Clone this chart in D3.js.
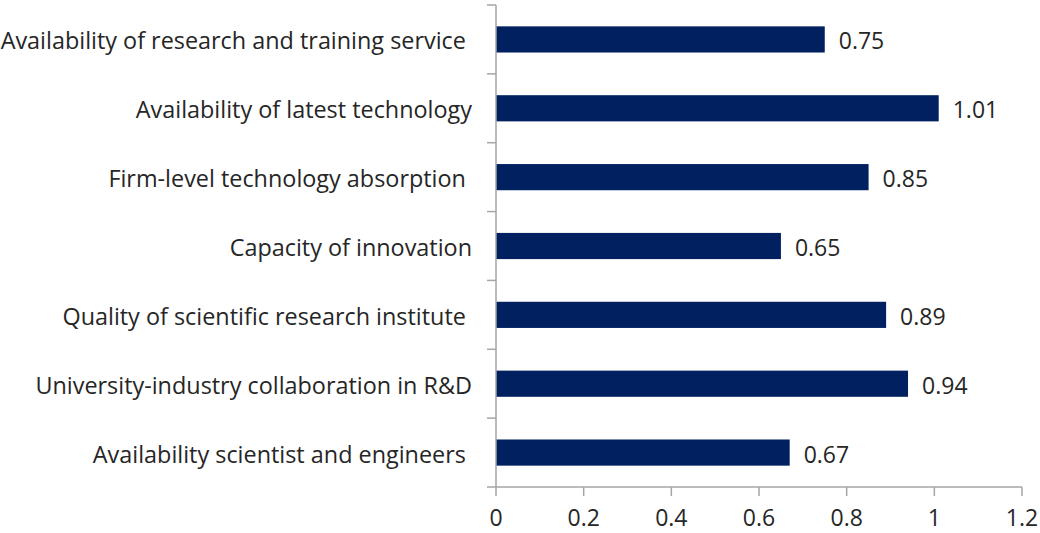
<!DOCTYPE html>
<html><head><meta charset="utf-8">
<script src="https://cdn.jsdelivr.net/npm/d3@7"></script>
<style>body{margin:0;background:#fff}text{white-space:pre}</style>
</head><body>
<svg id="c" width="1040" height="533"></svg>
<script>
const categories = [
  "Availability of research and training service ",
  "Availability of latest technology",
  "Firm-level technology absorption ",
  "Capacity of innovation",
  "Quality of scientific research institute ",
  "University-industry collaboration in R&D",
  "Availability scientist and engineers "
];
const values = [0.75, 1.01, 0.85, 0.65, 0.89, 0.94, 0.67];
const xTicks = [0, 0.2, 0.4, 0.6, 0.8, 1, 1.2];
const xTickLabels = ["0", "0.2", "0.4", "0.6", "0.8", "1", "1.2"];

(function(){
const svg = d3.select("#c");
const font = "'Open Sans', sans-serif";
const fs = 23;
const ink = "#262626";
const pLeft = 496, pRight = 1022, pTop = 5, pBottom = 487;
const x = d3.scaleLinear().domain([0, 1.2]).range([pLeft, pRight]);
const y = d3.scaleBand().domain(categories).range([pTop, pBottom]).paddingInner(0.62).paddingOuter(0.31);
const axisColor = "#a6a6a6";

svg.selectAll("rect.bar").data(categories).enter().append("rect")
  .attr("x", x(0)).attr("y", d => y(d))
  .attr("width", (d,i) => x(values[i]) - x(0))
  .attr("height", y.bandwidth())
  .attr("fill", "#002060");

svg.append("line").attr("x1", pLeft).attr("x2", pLeft).attr("y1", pTop).attr("y2", pBottom)
  .attr("stroke", axisColor).attr("stroke-width", 1.5);
const step = (pBottom - pTop) / categories.length;
d3.range(categories.length + 1).forEach(i => {
  svg.append("line").attr("x1", pLeft - 9).attr("x2", pLeft)
    .attr("y1", pTop + i * step).attr("y2", pTop + i * step)
    .attr("stroke", axisColor).attr("stroke-width", 1.5);
});
svg.append("line").attr("x1", pLeft).attr("x2", pRight).attr("y1", pBottom).attr("y2", pBottom)
  .attr("stroke", axisColor).attr("stroke-width", 1.5);
xTicks.forEach((t, i) => {
  svg.append("line").attr("x1", x(t)).attr("x2", x(t)).attr("y1", pBottom).attr("y2", pBottom + 9)
    .attr("stroke", axisColor).attr("stroke-width", 1.5);
  svg.append("text").attr("x", x(t)).attr("y", 526).attr("text-anchor", "middle")
    .attr("font-family", font).attr("font-size", fs).attr("fill", ink).text(xTickLabels[i]);
});

svg.selectAll("text.cat").data(categories).enter().append("text")
  .attr("x", 472).attr("y", d => y(d) + y.bandwidth()/2 + 10)
  .attr("text-anchor", "end").attr("font-family", font).attr("font-size", 23.4)
  .attr("fill", ink).text(d => d);

svg.selectAll("text.val").data(categories).enter().append("text")
  .attr("x", (d,i) => x(values[i]) + 14).attr("y", d => y(d) + y.bandwidth()/2 + 10)
  .attr("font-family", font).attr("font-size", fs).attr("fill", ink)
  .text((d,i) => d3.format(".2f")(values[i]));
})();
</script>
</body></html>
